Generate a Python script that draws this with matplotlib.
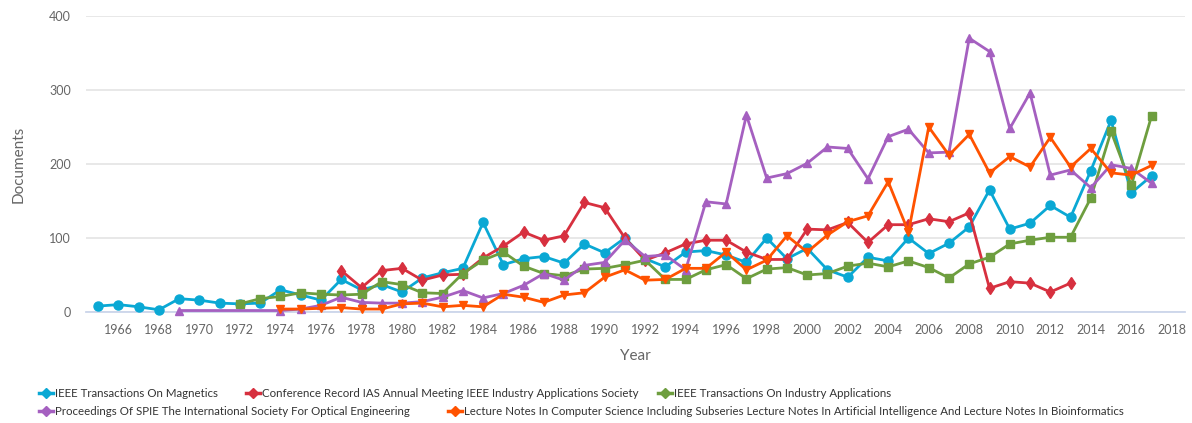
import matplotlib.pyplot as plt
from matplotlib.lines import Line2D

plt.rcParams['font.family'] = ['Lato', 'DejaVu Sans']

# --- data ---
mag_years = list(range(1965, 2018))
mag_docs = [8, 10, 7, 3, 18, 16, 12, 11, 12, 30, 23, 16, 44, 30, 37, 27, 46, 53, 59, 121,
            64, 72, 75, 66, 92, 80, 100, 72, 61, 81, 83, 77, 67, 100, 72, 86, 57, 47,
            74, 69, 100, 79, 93, 115, 165, 112, 120, 144, 128, 191, 259, 161, 184]

ias_years = list(range(1977, 2014))
ias_docs = [56, 33, 56, 59, 43, 50, 51, 73, 89, 108, 97, 103, 148, 141, 100, 70, 80, 92,
            97, 97, 81, 71, 71, 112, 111, 121, 94, 118, 118, 126, 122, 134, 32, 41, 39, 27, 39]

tia_years = list(range(1972, 2018))
tia_docs = [11, 18, 21, 26, 24, 23, 24, 41, 37, 26, 25, 52, 70, 81, 62, 52, 49, 58, 59, 64,
            70, 44, 44, 57, 64, 45, 58, 60, 50, 52, 62, 66, 61, 69, 60, 46, 65, 74, 92, 97,
            101, 101, 154, 244, 171, 265]

spie_years = [1969] + list(range(1974, 2018))
spie_docs = [2, 2, 4, 9, 20, 13, 12, 12, 14, 20, 29, 19, 25, 36, 52, 43, 63, 67, 97, 75, 77,
             57, 149, 146, 266, 181, 187, 201, 223, 221, 180, 237, 247, 215, 216, 370, 352,
             248, 296, 185, 192, 168, 199, 194, 174]

lncs_years = list(range(1974, 2018))
lncs_docs = [4, 4, 5, 6, 4, 4, 11, 12, 7, 9, 7, 24, 20, 13, 23, 26, 47, 57, 43, 44, 59, 59,
             81, 57, 70, 103, 81, 104, 122, 130, 176, 108, 250, 212, 240, 188, 210, 196,
             236, 196, 221, 188, 185, 198]

series = [
    ("IEEE Transactions On Magnetics", mag_years, mag_docs, '#0AA8D4', 'o', 6.5),
    ("Conference Record IAS Annual Meeting IEEE Industry Applications Society",
     ias_years, ias_docs, '#D7303F', 'd', 6),
    ("IEEE Transactions On Industry Applications", tia_years, tia_docs, '#6E9E3F', 's', 6),
    ("Proceedings Of SPIE The International Society For Optical Engineering",
     spie_years, spie_docs, '#A560C0', '^', 6),
    ("Lecture Notes In Computer Science Including Subseries Lecture Notes In Artificial "
     "Intelligence And Lecture Notes In Bioinformatics",
     lncs_years, lncs_docs, '#FF5200', 'v', 6),
]

W, H = 1192, 423
fig = plt.figure(figsize=(W / 100, H / 100), dpi=100)
ax = fig.add_axes([86 / W, 1 - 312 / H, (1185 - 86) / W, (312 - 16) / H])

for name, xs, ys, col, mk, ms in series:
    ax.plot(xs, ys, color=col, lw=2.0, marker=mk, ms=ms, clip_on=False, zorder=3)

ax.set_xlim(1964.4, 2018.65)
ax.set_ylim(0, 400)
ax.set_xticks(range(1966, 2019, 2))
ax.set_yticks(range(0, 401, 100))
ax.grid(axis='y', color='#e6e6e6', lw=1.3)
ax.set_axisbelow(True)
for s in ['top', 'right', 'left']:
    ax.spines[s].set_visible(False)
ax.spines['bottom'].set_color('#ccd6eb')
ax.spines['bottom'].set_linewidth(1.3)
ax.tick_params(length=0, labelsize=9, labelcolor='#666666')
ax.tick_params(axis='x', pad=9)
ax.tick_params(axis='y', pad=11)
ax.set_xlabel('Year', fontsize=11, color='#666666', labelpad=9)
ax.set_ylabel('Documents', fontsize=11, color='#666666', labelpad=17)

# legend laid out in two rows like the original
legend_pos = [(46, 393), (253, 393), (665, 393), (46, 411), (455, 411)]
for (name, xs, ys, col, mk, ms), (px, py) in zip(series, legend_pos):
    fy = 1 - py / H
    fig.add_artist(Line2D([(px - 7) / W, (px + 7) / W], [fy, fy], color=col, lw=2.5,
                          transform=fig.transFigure))
    fig.add_artist(Line2D([px / W], [fy], color=col, marker='D', ms=5,
                          transform=fig.transFigure))
    fig.text((px + 9) / W, fy, name, fontsize=8.3, color='#333333', va='center', ha='left')

fig.savefig('out.png', dpi=100)
